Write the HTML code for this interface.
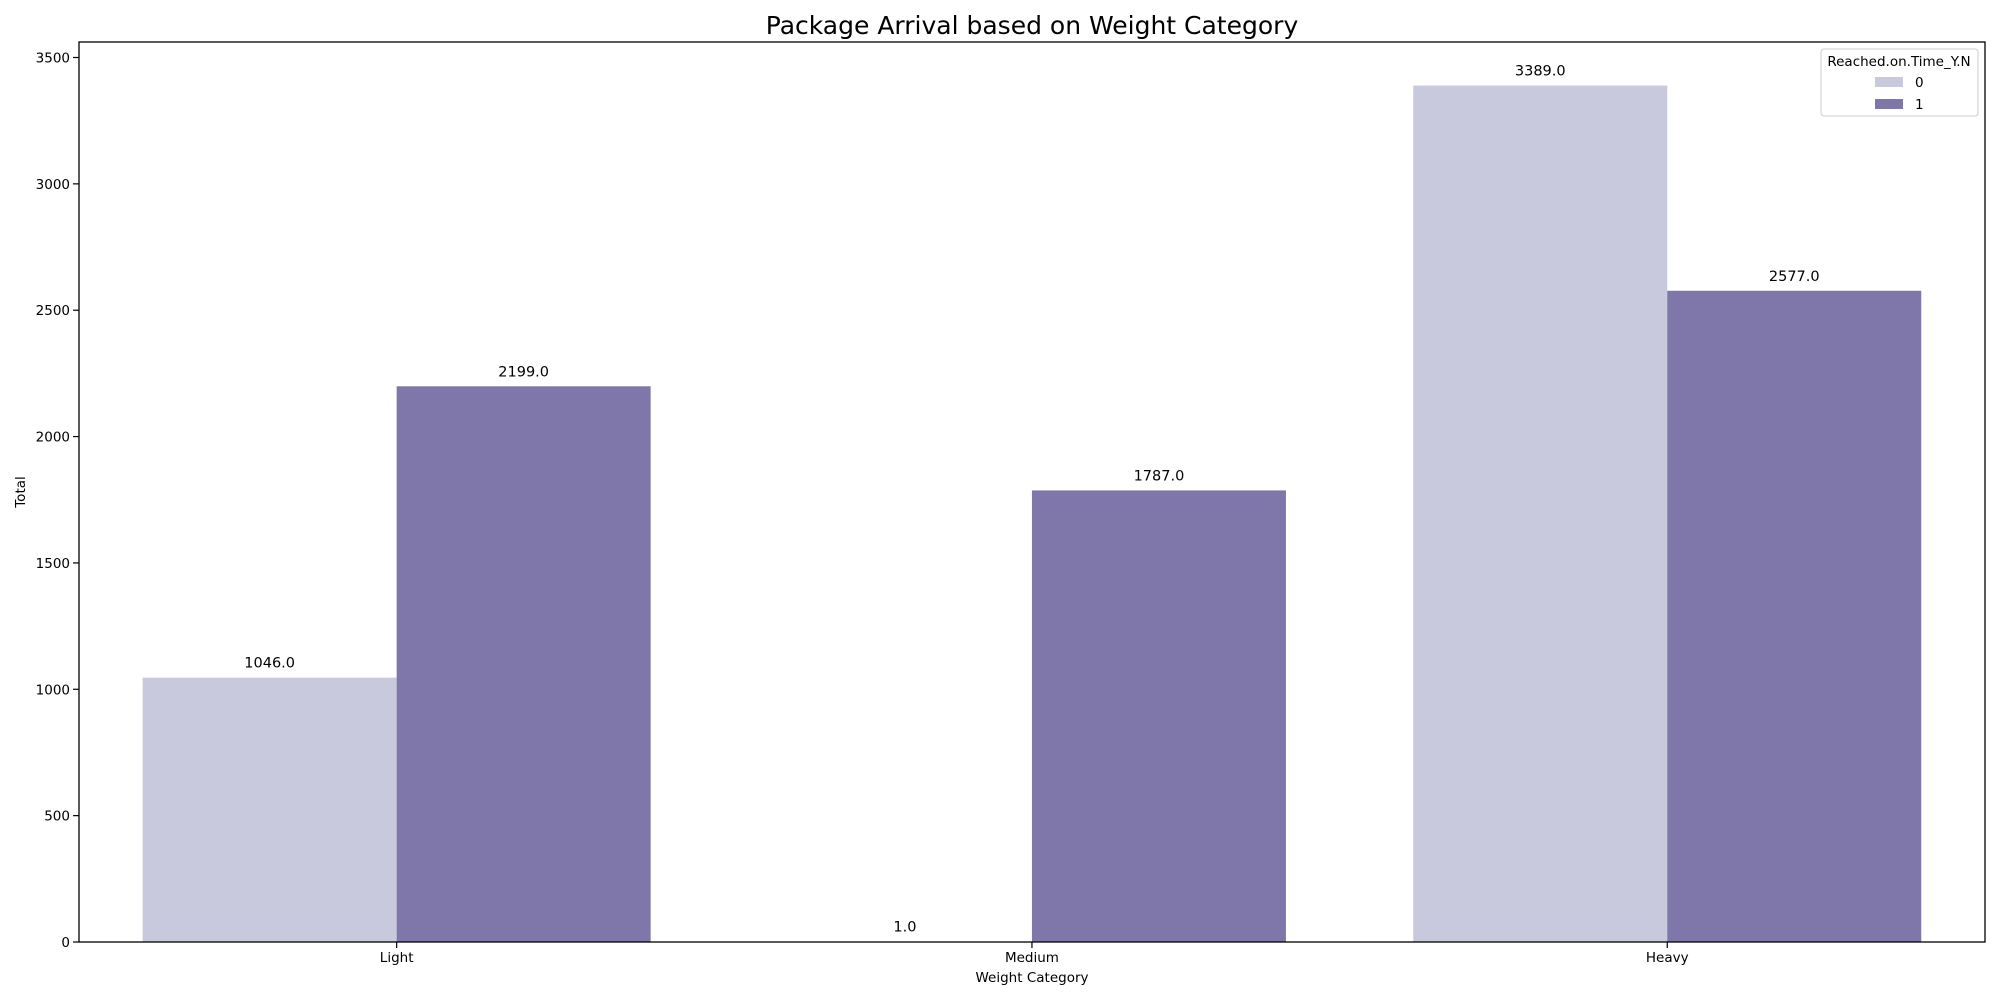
<!DOCTYPE html>
<html><head><meta charset="utf-8"><style>
html,body{margin:0;padding:0;background:#fff}
svg text{font-family:"DejaVu Sans","Liberation Sans",sans-serif;fill:#000}
</style></head><body>
<svg id="chart" width="2000" height="1000" viewBox="0 0 2000 1000" xmlns="http://www.w3.org/2000/svg">
<rect width="2000" height="1000" fill="#fff"/>
<text x="1032" y="34" font-size="25" text-anchor="middle">Package Arrival based on Weight Category</text>
<g id="bars"></g>
<g id="yaxis"></g>
<g id="xaxis"></g>
<rect x="79" y="42" width="1906" height="900" fill="none" stroke="#000" stroke-width="1.3"/>
<text x="1032" y="982" font-size="13.5" text-anchor="middle">Weight Category</text>
<text x="0" y="0" font-size="13.5" text-anchor="middle" transform="translate(25,492) rotate(-90)">Total</text>
<g>
<rect x="1821" y="49" width="157" height="67" rx="3" fill="#fff" stroke="#ccc" stroke-width="1"/>
<text x="1899" y="66" font-size="13.5" text-anchor="middle">Reached.on.Time_Y.N</text>
<rect x="1875" y="77" width="28" height="10" fill="#c9c9de"/>
<text x="1915" y="87" font-size="13.5">0</text>
<rect x="1875" y="99" width="28" height="10" fill="#7f77a9"/>
<text x="1915" y="109" font-size="13.5">1</text>
</g>
</svg>
<script>
const categories = ["Light", "Medium", "Heavy"];
const series0 = [1046, 1, 3389];
const series1 = [2199, 1787, 2577];
const yTicks = [0, 500, 1000, 1500, 2000, 2500, 3000, 3500];

const NS = "http://www.w3.org/2000/svg";
const plotLeft = 79, plotBottom = 942, catW = 635.3, barW = 254;
const yScale = v => plotBottom - v * (884.5 / 3500);
const xCenter = i => plotLeft + catW * (i + 0.5);
function mk(tag, attrs, parent) {
  const e = document.createElementNS(NS, tag);
  for (const k in attrs) e.setAttribute(k, attrs[k]);
  parent.appendChild(e);
  return e;
}
const bars = document.getElementById('bars');
const colors = ["#c9c9de", "#7f77a9"];
[series0, series1].forEach((s, si) => {
  s.forEach((v, i) => {
    const x = xCenter(i) + (si === 0 ? -barW : 0);
    const r = mk('rect', {x: x, y: yScale(v), width: barW, height: plotBottom - yScale(v), fill: colors[si]}, bars);
    
    
    const t = mk('text', {x: x + barW / 2, y: yScale(v) - 10, 'font-size': 14.5, 'text-anchor': 'middle'}, bars);
    t.textContent = v.toFixed(1);
    
    
  });
});
const ya = document.getElementById('yaxis');
yTicks.forEach(v => {
  const y = yScale(v);
  const l = mk('line', {x1: plotLeft - 6, x2: plotLeft, y1: y, y2: y, stroke: '#000', 'stroke-width': 1.2}, ya);
  
  
  const t = mk('text', {x: plotLeft - 9, y: y + 5, 'font-size': 13.5, 'text-anchor': 'end'}, ya);
  t.textContent = v;
  
  
});
const xa = document.getElementById('xaxis');
categories.forEach((c, i) => {
  const x = xCenter(i);
  const l = mk('line', {x1: x, x2: x, y1: plotBottom, y2: plotBottom + 6, stroke: '#000', 'stroke-width': 1.2}, xa);
  
  
  const t = mk('text', {x: x, y: 962, 'font-size': 13.5, 'text-anchor': 'middle'}, xa);
  t.textContent = c;
  
  
});
</script>
</body></html>
